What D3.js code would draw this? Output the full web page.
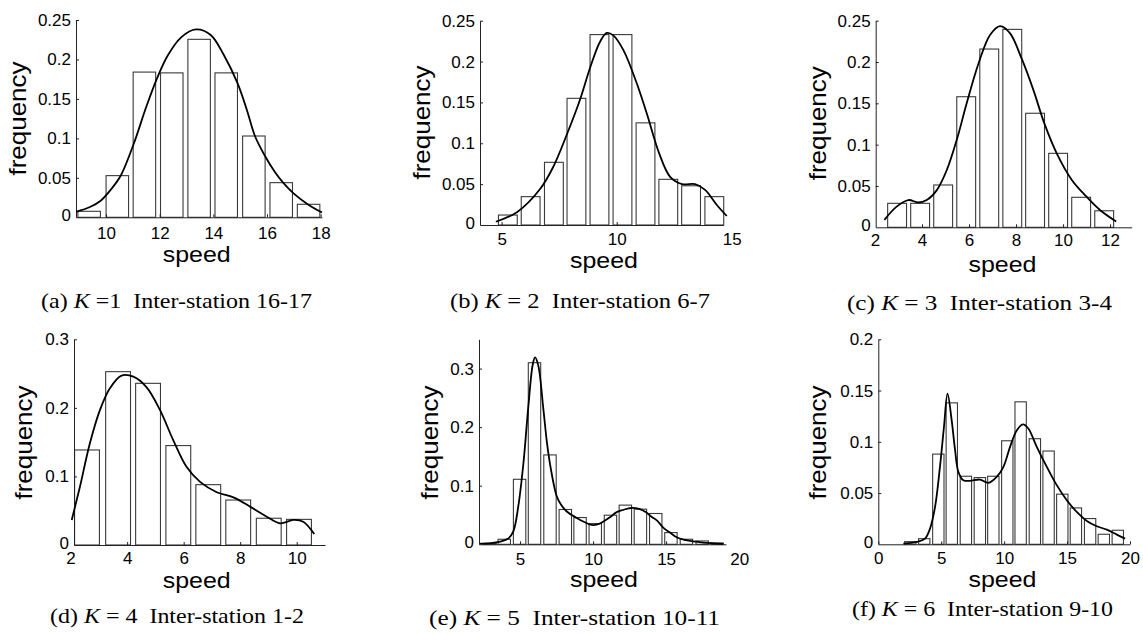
<!DOCTYPE html>
<html><head><meta charset="utf-8">
<script src="https://cdn.jsdelivr.net/npm/d3@7"></script>
<style>
html,body{margin:0;padding:0;background:#fff;}
svg{display:block;}
.tick text{font-family:"Liberation Sans",Arial,sans-serif;font-size:17px;fill:#000;}
.lbl{font-family:"Liberation Sans",Arial,sans-serif;font-size:24px;fill:#000;}
.lblx{font-family:"Liberation Sans",Arial,sans-serif;font-size:22px;fill:#000;}
.cap{font-family:"Liberation Serif","Times New Roman",serif;font-size:21px;fill:#000;white-space:pre;}
</style></head><body>
<svg id="c" width="1143" height="634"></svg>
<script>
// ---------------- data ----------------
// (a) K=1 Inter-station 16-17
const aCenters = [9.37, 10.42, 11.43, 12.45, 13.47, 14.48, 15.51, 16.53, 17.55];
const aFreq    = [0.0076, 0.0528, 0.184, 0.183, 0.2255, 0.183, 0.103, 0.0439, 0.0165];
const aCurveX  = [8.88, 9.4, 9.8, 10.2, 10.55, 11.02, 11.5, 11.9, 12.3, 12.8, 13.35, 13.9, 14.4, 14.9, 15.25, 15.55, 15.92, 16.3, 16.6, 17.0, 17.5, 18.05];
const aCurveY  = [0.007, 0.013, 0.021, 0.036, 0.053, 0.092, 0.14, 0.176, 0.205, 0.228, 0.238, 0.231, 0.205, 0.17, 0.136, 0.103, 0.078, 0.057, 0.044, 0.03, 0.017, 0.006];
const aXTicks  = [10, 12, 14, 16, 18];
const aYTicks  = [0, 0.05, 0.1, 0.15, 0.2, 0.25];

// (b) K=2 Inter-station 6-7
const bCenters = [5.27, 6.26, 7.27, 8.25, 9.25, 10.25, 11.25, 12.24, 13.23, 14.24];
const bFreq    = [0.0122, 0.0347, 0.0767, 0.155, 0.233, 0.233, 0.125, 0.0559, 0.048, 0.0347];
const bCurveX  = [4.75, 5.68, 6.67, 7.24, 7.85, 8.4, 8.85, 9.27, 9.57, 9.85, 10.29, 10.85, 11.3, 11.84, 12.32, 12.84, 13.4, 13.84, 14.35, 14.78];
const bCurveY  = [0.004, 0.016, 0.044, 0.071, 0.112, 0.153, 0.193, 0.224, 0.235, 0.232, 0.214, 0.175, 0.137, 0.088, 0.059, 0.05, 0.05, 0.043, 0.0245, 0.011];
const bXTicks  = [5, 10, 15];
const bYTicks  = [0, 0.05, 0.1, 0.15, 0.2, 0.25];

// (c) K=3 Inter-station 3-4
const cCenters = [2.94, 3.92, 4.90, 5.88, 6.86, 7.84, 8.81, 9.79, 10.77, 11.75];
const cFreq    = [0.029, 0.029, 0.0512, 0.158, 0.2157, 0.2395, 0.138, 0.0895, 0.0363, 0.020];
const cCurveX  = [2.4, 2.92, 3.42, 3.84, 4.2, 4.63, 5.05, 5.48, 5.9, 6.4, 6.9, 7.32, 7.74, 8.24, 8.74, 9.2, 9.73, 10.38, 11.0, 11.57, 12.26];
const cCurveY  = [0.009, 0.025, 0.033, 0.030, 0.033, 0.045, 0.069, 0.106, 0.15, 0.198, 0.233, 0.2435, 0.235, 0.204, 0.166, 0.126, 0.0895, 0.057, 0.037, 0.021, 0.007];
const cXTicks  = [2, 4, 6, 8, 10, 12];
const cYTicks  = [0, 0.05, 0.1, 0.15, 0.2, 0.25];

// (d) K=4 Inter-station 1-2
const dCenters = [2.58, 3.68, 4.74, 5.81, 6.87, 7.93, 9.01, 10.08];
const dFreq    = [0.1386, 0.2528, 0.2358, 0.145, 0.088, 0.0656, 0.039, 0.0374];
const dCurveX  = [2.04, 2.33, 2.68, 3.04, 3.39, 3.8, 4.22, 4.69, 5.16, 5.63, 6.1, 6.58, 7.17, 7.76, 8.35, 8.94, 9.41, 9.88, 10.23, 10.62];
const dCurveY  = [0.0365, 0.085, 0.148, 0.197, 0.2285, 0.247, 0.2455, 0.23, 0.197, 0.153, 0.114, 0.092, 0.077, 0.0695, 0.056, 0.0413, 0.0316, 0.0365, 0.034, 0.016];
const dXTicks  = [2, 4, 6, 8, 10];
const dYTicks  = [0, 0.1, 0.2, 0.3];

// (e) K=5 Inter-station 10-11
const eCenters = [2.95, 3.92, 4.97, 5.99, 7.05, 8.1, 9.11, 10.15, 11.19, 12.21, 13.24, 14.29, 15.33, 16.39, 17.47, 18.49];
const eFreq    = [0.0017, 0.0086, 0.111, 0.310, 0.1526, 0.0594, 0.0457, 0.0354, 0.0497, 0.0669, 0.060, 0.0526, 0.020, 0.0086, 0.0057, 0.0023];
const eCurveX  = [2.26, 3.0, 3.63, 4.2, 4.54, 4.88, 5.23, 5.57, 5.87, 6.03, 6.25, 6.6, 6.85, 7.1, 7.5, 7.8, 8.2, 8.88, 9.4, 9.9, 10.3, 10.71, 11.2, 11.62, 12.1, 12.6, 13.2, 13.6, 14.0, 14.4, 14.82, 15.27, 15.73, 16.2, 16.87, 17.55, 18.24, 18.92];
const eCurveY  = [0.001, 0.002, 0.0046, 0.010, 0.022, 0.065, 0.138, 0.236, 0.307, 0.319, 0.305, 0.23, 0.172, 0.13, 0.083, 0.068, 0.056, 0.045, 0.038, 0.033, 0.034, 0.039, 0.047, 0.055, 0.059, 0.062, 0.06, 0.055, 0.047, 0.04, 0.028, 0.02, 0.012, 0.008, 0.005, 0.003, 0.0017, 0.0006];
const eXTicks  = [5, 10, 15, 20];
const eYTicks  = [0, 0.1, 0.2, 0.3];

// (f) K=6 Inter-station 9-10
const fCenters = [2.54, 3.65, 4.77, 5.84, 6.96, 8.07, 9.14, 10.25, 11.31, 12.44, 13.53, 14.62, 15.7, 16.83, 17.92, 19.03];
const fFreq    = [0.0026, 0.0055, 0.088, 0.138, 0.0664, 0.0651, 0.0664, 0.101, 0.139, 0.103, 0.091, 0.0489, 0.0355, 0.0251, 0.0098, 0.0137];
const fCurveX  = [1.99, 3.05, 3.71, 4.11, 4.51, 4.9, 5.22, 5.5, 5.83, 6.1, 6.36, 6.76, 7.29, 8.08, 8.74, 9.41, 9.94, 10.47, 11.0, 11.48, 11.92, 12.59, 13.39, 14.18, 14.98, 15.77, 16.57, 17.36, 18.16, 18.95, 19.61];
const fCurveY  = [0.0007, 0.0023, 0.0055, 0.0153, 0.0365, 0.0756, 0.1147, 0.147, 0.121, 0.092, 0.0707, 0.0625, 0.0619, 0.0632, 0.06, 0.0658, 0.0756, 0.0951, 0.111, 0.117, 0.113, 0.0951, 0.0756, 0.0577, 0.043, 0.0316, 0.0228, 0.0176, 0.0143, 0.0094, 0.0055];
const fXTicks  = [0, 5, 10, 15, 20];
const fYTicks  = [0, 0.05, 0.1, 0.15, 0.2];

const captions = [
  ["(a) ", "K", " =1  Inter-station 16-17"],
  ["(b) ", "K", " = 2  Inter-station 6-7"],
  ["(c) ", "K", " = 3  Inter-station 3-4"],
  ["(d) ", "K", " = 4  Inter-station 1-2"],
  ["(e) ", "K", " = 5  Inter-station 10-11"],
  ["(f) ", "K", " = 6  Inter-station 9-10"]
];
const xLabel = "speed", yLabel = "frequency";

// ---------------- layout ----------------
const panels = [
  {centers:aCenters, freq:aFreq, cx:aCurveX, cy:aCurveY, xt:aXTicks, yt:aYTicks, cap:captions[0],
   L:76, R:322, T:20, B:217.3, xdom:[8.88,18.05], ydom:[0,0.25], xpad:9.4,
   fl:[26,118.5], sl:[196.7,261.5], cp:[41,308,271]},
  {centers:bCenters, freq:bFreq, cx:bCurveX, cy:bCurveY, xt:bXTicks, yt:bYTicks, cap:captions[1],
   L:480, R:723.3, T:20.7, B:225, xdom:[4.06,14.63], ydom:[0,0.25], xpad:8.3,
   fl:[429.7,122.5], sl:[604,267.5], cp:[450,308,260]},
  {centers:cCenters, freq:cFreq, cx:cCurveX, cy:cCurveY, xt:cXTicks, yt:cYTicks, cap:captions[2],
   L:875.7, R:1131.7, T:20.7, B:227.3, xdom:[2.03,12.92], ydom:[0,0.25], xpad:6.5,
   fl:[826,123.3], sl:[1002.5,271.5], cp:[847,310,265]},
  {centers:dCenters, freq:dFreq, cx:dCurveX, cy:dCurveY, xt:dXTicks, yt:dYTicks, cap:captions[3],
   L:74, R:325, T:339.3, B:545, xdom:[2.12,11.0], ydom:[0,0.3], xpad:6.5,
   fl:[32,442.5], sl:[196.7,588], cp:[50,622.5,254]},
  {centers:eCenters, freq:eFreq, cx:eCurveX, cy:eCurveY, xt:eXTicks, yt:eYTicks, cap:captions[4],
   L:479, R:726, T:339.3, B:544.3, xdom:[2.19,19.1], ydom:[0,0.35], xpad:9,
   fl:[438,442.5], sl:[604,587.3], cp:[429,625,291]},
  {centers:fCenters, freq:fFreq, cx:fCurveX, cy:fCurveY, xt:fXTicks, yt:fYTicks, cap:captions[5],
   L:878.3, R:1130, T:339.3, B:544.3, xdom:[0,20], ydom:[0,0.2], xpad:7.4,
   fl:[826,442.5], sl:[1002.5,586.5], cp:[852,616,261]}
];

const svg = d3.select("#c");
const fmt = d3.format("~g");

panels.forEach(p => {
  const g = svg.append("g");
  const x = d3.scaleLinear().domain(p.xdom).range([p.L, p.R]);
  const y = d3.scaleLinear().domain(p.ydom).range([p.B, p.T]);
  const n = p.centers.length;
  const step = (p.centers[n-1] - p.centers[0]) / (n - 1);
  const hw = step * 0.41;
  const bins = p.centers.map((c, i) => ({c, f: p.freq[i]}));

  g.selectAll("rect.bar").data(bins).join("rect")
    .attr("class", "bar")
    .attr("x", d => x(d.c - hw))
    .attr("width", d => x(d.c + hw) - x(d.c - hw))
    .attr("y", d => y(d.f))
    .attr("height", d => y(0) - y(d.f))
    .attr("fill", "#fff")
    .attr("stroke", "#3a3a3a")
    .attr("stroke-width", 1.1);

  // axes
  const xa = g.append("g").attr("transform", `translate(0,${p.B})`)
    .call(d3.axisBottom(x).tickValues(p.xt).tickFormat(fmt)
      .tickSizeInner(-3).tickSizeOuter(0).tickPadding(p.xpad));
  const ya = g.append("g").attr("transform", `translate(${p.L},0)`)
    .call(d3.axisLeft(y).tickValues(p.yt).tickFormat(fmt)
      .tickSizeInner(-3).tickSizeOuter(0).tickPadding(5));
  [xa, ya].forEach(a => {
    a.select(".domain").attr("stroke", "#222").attr("stroke-width", 1);
    a.selectAll(".tick line").attr("stroke", "#222");
    a.attr("font-family", null).attr("font-size", null);
  });
  xa.selectAll(".tick").each(function(v) {
    const px = x(v);
    if (px < p.L - 0.5 || px > p.R + 0.5) d3.select(this).select("line").remove();
  });
  ya.selectAll(".tick").filter(v => v === 0).select("line").remove();
  // the "0" of the y axis sits slightly above the x labels, as in the original
  ya.selectAll(".tick").filter(v => v === 0).select("text").attr("dy", "0.2em");

  // density curve
  const pts = p.cx.map((v, i) => [v, p.cy[i]]);
  g.append("path").datum(pts)
    .attr("fill", "none").attr("stroke", "#000").attr("stroke-width", 1.8)
    .attr("stroke-linejoin", "round")
    .attr("d", d3.line().x(d => x(d[0])).y(d => y(d[1])).curve(d3.curveCatmullRom.alpha(0.5)));

  // labels
  g.append("text").attr("class", "lbl")
    .attr("transform", `translate(${p.fl[0]},${p.fl[1]}) rotate(-90)`)
    .attr("text-anchor", "middle")
    .attr("textLength", 114).attr("lengthAdjust", "spacingAndGlyphs")
    .text(yLabel);
  g.append("text").attr("class", "lblx")
    .attr("x", p.sl[0]).attr("y", p.sl[1])
    .attr("text-anchor", "middle")
    .attr("textLength", 68).attr("lengthAdjust", "spacingAndGlyphs")
    .text(xLabel);

  const cap = g.append("text").attr("class", "cap")
    .attr("x", p.cp[0]).attr("y", p.cp[1])
    .attr("textLength", p.cp[2]).attr("lengthAdjust", "spacingAndGlyphs");
  cap.append("tspan").text(p.cap[0]);
  cap.append("tspan").attr("font-style", "italic").text(p.cap[1]);
  cap.append("tspan").text(p.cap[2]);
});
</script>
</body></html>
